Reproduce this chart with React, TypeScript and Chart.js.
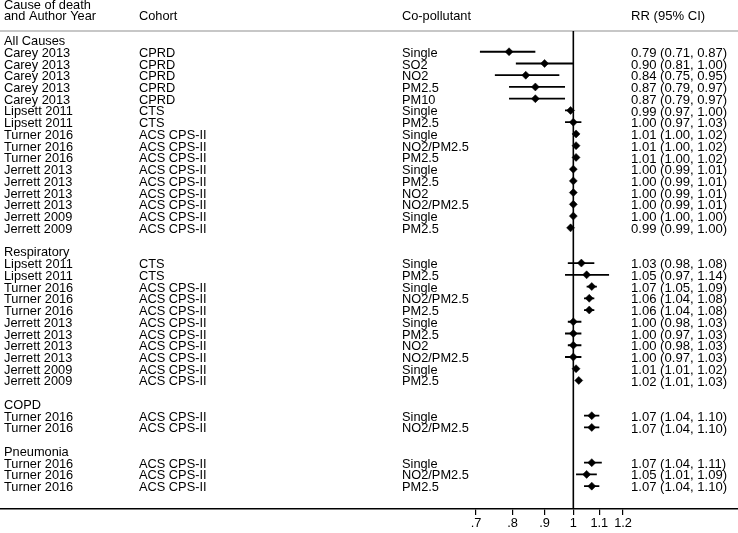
import React, { useEffect, useRef } from 'react';
import { Chart, registerables } from 'chart.js';

Chart.register(...registerables);

// ---------------- data ----------------
const groupNames = ['All Causes', 'Respiratory', 'COPD', 'Pneumonia'];
const groupSizes = [16, 11, 2, 3];

const studies = [
  'Carey 2013', 'Carey 2013', 'Carey 2013', 'Carey 2013', 'Carey 2013',
  'Lipsett 2011', 'Lipsett 2011',
  'Turner 2016', 'Turner 2016', 'Turner 2016',
  'Jerrett 2013', 'Jerrett 2013', 'Jerrett 2013', 'Jerrett 2013',
  'Jerrett 2009', 'Jerrett 2009',
  'Lipsett 2011', 'Lipsett 2011',
  'Turner 2016', 'Turner 2016', 'Turner 2016',
  'Jerrett 2013', 'Jerrett 2013', 'Jerrett 2013', 'Jerrett 2013',
  'Jerrett 2009', 'Jerrett 2009',
  'Turner 2016', 'Turner 2016',
  'Turner 2016', 'Turner 2016', 'Turner 2016',
];

const cohorts = [
  'CPRD', 'CPRD', 'CPRD', 'CPRD', 'CPRD',
  'CTS', 'CTS',
  'ACS CPS-II', 'ACS CPS-II', 'ACS CPS-II',
  'ACS CPS-II', 'ACS CPS-II', 'ACS CPS-II', 'ACS CPS-II',
  'ACS CPS-II', 'ACS CPS-II',
  'CTS', 'CTS',
  'ACS CPS-II', 'ACS CPS-II', 'ACS CPS-II',
  'ACS CPS-II', 'ACS CPS-II', 'ACS CPS-II', 'ACS CPS-II',
  'ACS CPS-II', 'ACS CPS-II',
  'ACS CPS-II', 'ACS CPS-II',
  'ACS CPS-II', 'ACS CPS-II', 'ACS CPS-II',
];

const pollutants = [
  'Single', 'SO2', 'NO2', 'PM2.5', 'PM10',
  'Single', 'PM2.5',
  'Single', 'NO2/PM2.5', 'PM2.5',
  'Single', 'PM2.5', 'NO2', 'NO2/PM2.5',
  'Single', 'PM2.5',
  'Single', 'PM2.5',
  'Single', 'NO2/PM2.5', 'PM2.5',
  'Single', 'PM2.5', 'NO2', 'NO2/PM2.5',
  'Single', 'PM2.5',
  'Single', 'NO2/PM2.5',
  'Single', 'NO2/PM2.5', 'PM2.5',
];

const rr = [
  0.79, 0.90, 0.84, 0.87, 0.87,
  0.99, 1.00,
  1.01, 1.01, 1.01,
  1.00, 1.00, 1.00, 1.00,
  1.00, 0.99,
  1.03, 1.05,
  1.07, 1.06, 1.06,
  1.00, 1.00, 1.00, 1.00,
  1.01, 1.02,
  1.07, 1.07,
  1.07, 1.05, 1.07,
];

const lower = [
  0.71, 0.81, 0.75, 0.79, 0.79,
  0.97, 0.97,
  1.00, 1.00, 1.00,
  0.99, 0.99, 0.99, 0.99,
  1.00, 0.99,
  0.98, 0.97,
  1.05, 1.04, 1.04,
  0.98, 0.97, 0.98, 0.97,
  1.01, 1.01,
  1.04, 1.04,
  1.04, 1.01, 1.04,
];

const upper = [
  0.87, 1.00, 0.95, 0.97, 0.97,
  1.00, 1.03,
  1.02, 1.02, 1.02,
  1.01, 1.01, 1.01, 1.01,
  1.00, 1.00,
  1.08, 1.14,
  1.09, 1.08, 1.08,
  1.03, 1.03, 1.03, 1.03,
  1.02, 1.03,
  1.10, 1.10,
  1.11, 1.09, 1.10,
];

const tickValues = [0.7, 0.8, 0.9, 1, 1.1, 1.2];
const tickLabels = ['.7', '.8', '.9', '1', '1.1', '1.2'];
const referenceValue = 1;

const headerAuthor = ['Cause of death', 'and Author Year'];
const headerCohort = 'Cohort';
const headerPollutant = 'Co-pollutant';
const headerRR = 'RR (95% CI)';

// -------------- row layout (derived) --------------
const groupRows: number[] = [];
const entryRows: number[] = [];
(() => {
  let r = 0;
  groupSizes.forEach((n) => {
    groupRows.push(r);
    r++;
    for (let i = 0; i < n; i++) {
      entryRows.push(r);
      r++;
    }
    r++;
  });
})();

const FAMILY = "'Liberation Sans', Arial, Helvetica, sans-serif";
const FONT = `12.8px ${FAMILY}`;
const FONT_RR = `13.1px ${FAMILY}`;
const TEXT_DY = 1.5;

const fmt = (v: number) => v.toFixed(2);

const textPlugin = {
  id: 'forestText',
  beforeDatasetsDraw(chart: any) {
    const { ctx, chartArea, scales } = chart;
    const x = scales.x;
    ctx.save();
    // gray header rule
    ctx.strokeStyle = '#b4b4b4';
    ctx.lineWidth = 1.5;
    ctx.beginPath();
    ctx.moveTo(0, chartArea.top);
    ctx.lineTo(chart.width, chartArea.top);
    ctx.stroke();
    // reference line
    const px = x.getPixelForValue(referenceValue);
    ctx.strokeStyle = '#000';
    ctx.lineWidth = 1.6;
    ctx.beginPath();
    ctx.moveTo(px, chartArea.top);
    ctx.lineTo(px, chartArea.bottom);
    ctx.stroke();
    ctx.restore();
  },
  afterDraw(chart: any) {
    const { ctx, scales } = chart;
    const y = scales.y;
    ctx.save();
    ctx.font = FONT;
    ctx.fillStyle = '#000';
    ctx.textBaseline = 'middle';
    ctx.textAlign = 'left';
    const colAuthor = 4;
    const colCohort = 139;
    const colPoll = 402;
    const colRR = 631;
    // header
    ctx.fillText(headerAuthor[0], colAuthor, 5.5);
    ctx.fillText(headerAuthor[1], colAuthor, 16.5);
    ctx.fillText(headerCohort, colCohort, 16.5);
    ctx.fillText(headerPollutant, colPoll, 16.5);
    ctx.font = FONT_RR;
    ctx.fillText(headerRR, colRR, 16.5);
    ctx.font = FONT;
    // groups
    groupNames.forEach((g, i) => {
      ctx.fillText(g, colAuthor, y.getPixelForValue(groupRows[i]) + TEXT_DY);
    });
    // entries
    entryRows.forEach((row, i) => {
      const py = y.getPixelForValue(row) + TEXT_DY;
      ctx.font = FONT;
      ctx.fillText(studies[i], colAuthor, py);
      ctx.fillText(cohorts[i], colCohort, py);
      ctx.fillText(pollutants[i], colPoll, py);
      ctx.font = FONT_RR;
      ctx.fillText(`${fmt(rr[i])} (${fmt(lower[i])}, ${fmt(upper[i])})`, colRR, py);
    });
    ctx.restore();
  },
};

export default function App() {
  const ref = useRef<HTMLCanvasElement | null>(null);

  useEffect(() => {
    if (!ref.current) return;
    const ciData: any[] = [];
    entryRows.forEach((row, i) => {
      ciData.push({ x: lower[i], y: row });
      ciData.push({ x: upper[i], y: row });
      ciData.push({ x: null, y: null });
    });
    const pointData = entryRows.map((row, i) => ({ x: rr[i], y: row }));

    const chart = new Chart(ref.current, {
      type: 'scatter',
      data: {
        datasets: [
          {
            label: 'CI',
            data: ciData,
            showLine: true,
            spanGaps: false,
            borderColor: '#000',
            borderWidth: 1.8,
            pointRadius: 0,
            pointHoverRadius: 0,
          },
          {
            label: 'RR',
            data: pointData,
            pointStyle: 'rectRot',
            pointRadius: 4,
            pointBackgroundColor: '#000',
            pointBorderColor: '#000',
            pointBorderWidth: 0.5,
          },
        ],
      },
      options: {
        animation: false,
        responsive: false,
        events: [],
        layout: { autoPadding: false, padding: { top: 31, left: 0, right: 0, bottom: 0 } },
        plugins: {
          legend: { display: false },
          tooltip: { enabled: false },
        },
        scales: {
          x: {
            type: 'logarithmic',
            min: 0.1222,
            max: 1.829,
            afterBuildTicks: (scale: any) => {
              scale.ticks = tickValues.map((v) => ({ value: v }));
            },
            afterFit: (scale: any) => {
              scale.height = 24;
              scale.paddingLeft = 0;
              scale.paddingRight = 0;
            },
            border: { display: true, color: '#000', width: 1.6 },
            grid: {
              display: true,
              drawOnChartArea: false,
              drawTicks: true,
              tickLength: 6,
              color: '#000',
              lineWidth: 1.2,
            },
            ticks: {
              autoSkip: false,
              maxRotation: 0,
              minRotation: 0,
              padding: 1,
              color: '#000',
              font: { family: FAMILY, size: 12.8 },
              callback: (_v: any, i: number) => tickLabels[i],
            },
          },
          y: {
            type: 'linear',
            display: false,
            reverse: true,
            min: -0.7666,
            max: 39.948,
            afterFit: (scale: any) => {
              scale.paddingTop = 0;
              scale.paddingBottom = 0;
            },
          },
        },
      },
      plugins: [textPlugin],
    } as any);
    return () => chart.destroy();
  }, []);

  return (
    <div style={{ position: 'fixed', left: 0, top: 0, width: 738, height: 533, background: '#fff' }}>
      <canvas ref={ref} width={738} height={533} />
    </div>
  );
}
